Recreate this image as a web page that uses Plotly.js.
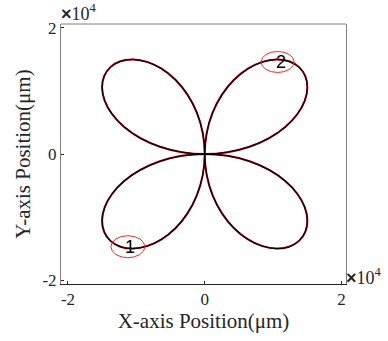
<!DOCTYPE html>
<html><head><meta charset="utf-8">
<script src="https://cdn.plot.ly/plotly-3.0.1.min.js"></script>
<style>html,body{margin:0;padding:0;background:#fff}</style>
</head><body><div id="c" style="width:388px;height:341px"></div>
<script>
// Trajectory (µm): four-leaf path
const xPath = [0,3373,6568,9418,11778,13538,14626,15010,14711,13789,12344,10510,8444,6313,4287,2523,1158,295,0,
  295,1158,2523,4287,6313,8444,10510,12344,13789,14711,15010,14626,13538,11778,9418,6568,3373,0,
  -3373,-6568,-9418,-11778,-13538,-14626,-15010,-14711,-13789,-12344,-10510,-8444,-6313,-4287,-2523,-1158,-295,0,
  -295,-1158,-2523,-4287,-6313,-8444,-10510,-12344,-13789,-14711,-15010,-14626,-13538,-11778,-9418,-6568,-3373,0];
const yPath = [0,295,1158,2523,4287,6313,8444,10510,12344,13789,14711,15010,14626,13538,11778,9418,6568,3373,0,
  -3373,-6568,-9418,-11778,-13538,-14626,-15010,-14711,-13789,-12344,-10510,-8444,-6313,-4287,-2523,-1158,-295,0,
  -295,-1158,-2523,-4287,-6313,-8444,-10510,-12344,-13789,-14711,-15010,-14626,-13538,-11778,-9418,-6568,-3373,0,
  3373,6568,9418,11778,13538,14626,15010,14711,13789,12344,10510,8444,6313,4287,2523,1158,295,0];
const markLabels = ['1','2'];
const markX = [-11000, 11100];
const markY = [-14700, 14600];
const tickVals = [-20000, 0, 20000];
const tickText = ['-2','0','2'];

const traces = [
  {x:xPath, y:yPath, mode:'lines', line:{color:'#d0001a', width:2, shape:'spline', smoothing:1}, hoverinfo:'skip'},
  {x:xPath, y:yPath, mode:'lines', line:{color:'#0a0002', width:1.3, shape:'spline', smoothing:1}, hoverinfo:'skip'}
];
const serif = 'Liberation Serif, Times New Roman, serif';
const expText = '<span style="font-family:Liberation Sans;font-weight:bold">×</span>10<sup>4</sup>';
const layout = {
  width:388, height:341,
  margin:{l:61, r:41.5, t:24, b:57},
  paper_bgcolor:'#fff', plot_bgcolor:'#fff',
  showlegend:false,
  xaxis:{range:[-21020, 20660], tickvals:tickVals, ticktext:tickText, ticks:'inside', ticklen:3, tickcolor:'#262626',
    showline:true, linecolor:'#262626', linewidth:1, showgrid:false, zeroline:false,
    tickfont:{family:serif, size:17, color:'#262626'},
    title:{text:'X-axis Position(μm)', font:{family:serif, size:21, color:'#262626'}, standoff:4}},
  yaxis:{range:[-20630, 20630], tickvals:tickVals, ticktext:tickText, ticks:'inside', ticklen:3, tickcolor:'#262626',
    showline:true, linecolor:'#808080', linewidth:1, mirror:true, showgrid:false, zeroline:false,
    tickfont:{family:serif, size:17, color:'#262626'},
    title:{text:'Y-axis Position(μm)', font:{family:serif, size:21, color:'#262626'}, standoff:6}},
  shapes:[
    {type:'line', xref:'paper', yref:'paper', x0:0, x1:1, y0:1, y1:1, line:{color:'#808080', width:1}},
    {type:'circle', xref:'x', yref:'y', x0:-13720, x1:-8760, y0:-16460, y1:-12970, line:{color:'#ff2020', width:1}},
    {type:'circle', xref:'x', yref:'y', x0:8250, x1:13070, y0:12940, y1:16270, line:{color:'#ff2020', width:1}}
  ],
  annotations:[
    {x:markX[0], y:markY[0], xref:'x', yref:'y', text:markLabels[0], showarrow:false, font:{family:'Liberation Sans, Arial', size:18, color:'#000'}},
    {x:markX[1], y:markY[1], xref:'x', yref:'y', text:markLabels[1], showarrow:false, font:{family:'Liberation Sans, Arial', size:18, color:'#000'}},
    {x:0, y:1, xref:'paper', yref:'paper', xanchor:'left', yanchor:'bottom', xshift:-2, yshift:-2, text:expText, showarrow:false, font:{family:serif, size:18, color:'#262626'}},
    {x:1, y:0, xref:'paper', yref:'paper', xanchor:'left', yanchor:'bottom', xshift:-2, yshift:-6, text:expText, showarrow:false, font:{family:serif, size:18, color:'#262626'}}
  ]
};
Plotly.newPlot('c', traces, layout, {displayModeBar:false, staticPlot:true});
</script></body></html>
